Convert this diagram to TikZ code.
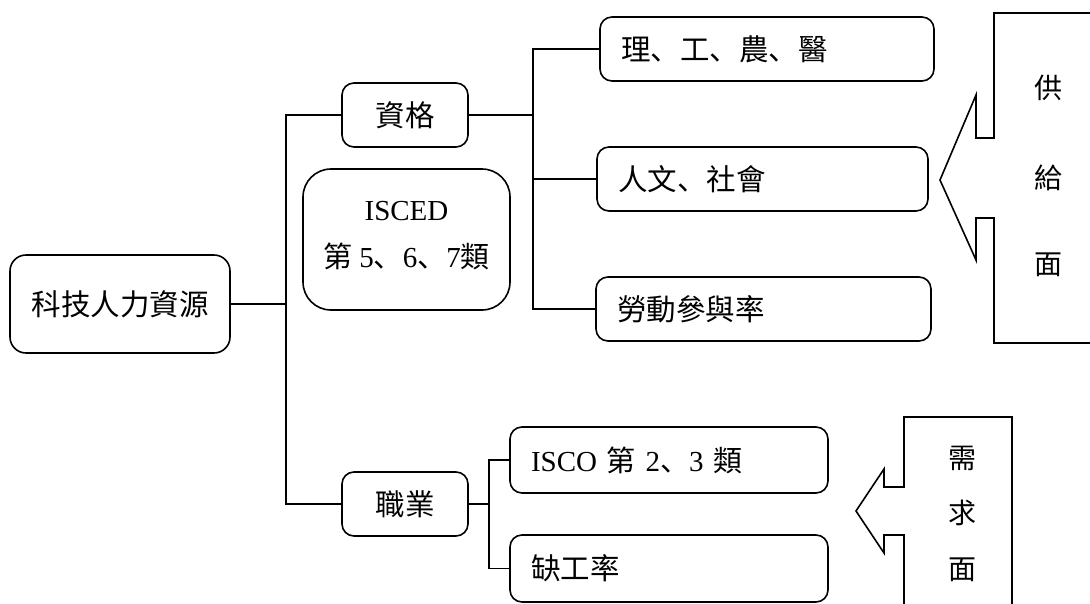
\documentclass[tikz,border=0pt]{standalone}
\usepackage{fontspec}
\setmainfont{Liberation Serif}
\newfontfamily\cjk{Noto Sans CJK TC}
\newfontfamily\cjp{Noto Sans CJK JP}
\newcommand{\dun}{{\cjp 、}}
\begin{document}
\begin{tikzpicture}[x=1pt,y=-1pt,
  every node/.style={font=\fontsize{29.5}{34}\selectfont\cjk},
  ln/.style={line width=1.6pt},
  box/.style={draw,line width=1.6pt,rounded corners=12pt,inner sep=0pt},
  lbox/.style={box,align=left,inner xsep=21pt,inner ysep=0pt,minimum height=64pt},
  side/.style={font=\fontsize{28}{32}\selectfont\cjk,inner sep=0pt}]
\useasboundingbox (0,0) rectangle (1090,603);
\clip (0,0) rectangle (1090,603);
% nodes
\node[box,rounded corners=16pt,minimum width=220pt,minimum height=98pt] (root) at (120,304) {科技人力資源};
\node[box,minimum width=126pt,minimum height=64pt] (zige) at (405,115) {資格};
\node[box,rounded corners=28pt,minimum width=207pt,minimum height=141pt,align=center,
  font=\fontsize{29}{34}\selectfont\rmfamily] (isced) at (406.5,239.5)
  {ISCED\\[13pt]{\cjk 第} 5\dun 6\dun 7{\cjk 類}\\[-24pt]};
\node[box,minimum width=126pt,minimum height=64pt] (zhiye) at (405,504) {職業};
\node[lbox,text width=292pt] (li) at (767,49) {理\dun 工\dun 農\dun 醫};
\node[lbox,text width=289pt] (ren) at (762.5,179) {人文\dun 社會};
\node[lbox,text width=293pt] (lao) at (763.5,309) {勞動參與率};
\node[lbox,text width=276pt,minimum height=66pt] (isco) at (669,460) {\fontsize{29}{34}\selectfont\rmfamily ISCO {\cjk 第} 2\dun 3 {\cjk 類}};
\node[lbox,text width=276pt,minimum height=67pt] (que) at (669,568.5) {缺工率};
% connectors
\coordinate (t1) at (286,115);
\coordinate (b1) at (533,115);
\coordinate (b2) at (489,504);
\draw[ln] (zige.west) -- (t1) |- (zhiye.west);
\draw[ln] (root.east) -- (root.east -| t1);
\draw[ln] (zige.east) -- (b1);
\draw[ln] (li.west) -| (b1) |- (lao.west);
\draw[ln] (b1 |- ren.west) -- (ren.west);
\draw[ln] (zhiye.east) -- (b2);
\draw[ln] (isco.west) -| (b2) |- (que.west);
% supply side
\draw[ln,line join=miter] (1110,13) -- (994,13) -- (994,138) -- (976,138) -- (976,95) -- (940,180)
  -- (976,260) -- (976,218) -- (994,218) -- (994,343) -- (1110,343);
\node[side] (s1) at (1048,88) {供};
\node[side] (s2) at (1048,178) {給};
\node[side] (s3) at (1048,265) {面};
% demand side
\draw[ln,line join=miter] (1012,620) -- (1012,417) -- (904,417) -- (904,487) -- (884,487) -- (884,469) -- (856,511)
  -- (884,553) -- (884,535) -- (904,535) -- (904,620);
\node[side] (d1) at (962,458) {需};
\node[side] (d2) at (962,513) {求};
\node[side] (d3) at (962,570) {面};
\end{tikzpicture}
\end{document}
